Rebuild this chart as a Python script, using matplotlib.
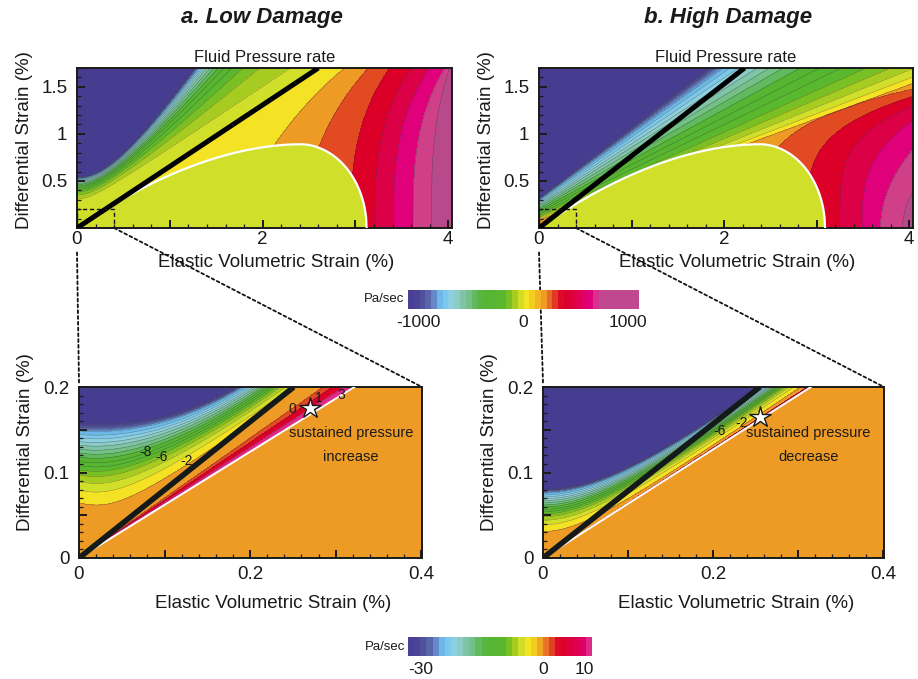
import numpy as np
import matplotlib
matplotlib.use("Agg")
import matplotlib.pyplot as plt
from matplotlib.colors import ListedColormap, BoundaryNorm
from matplotlib.cm import ScalarMappable
from matplotlib.patches import ConnectionPatch, Rectangle
from matplotlib.ticker import FixedLocator, FixedFormatter, MultipleLocator

plt.rcParams["font.family"] = ["Liberation Sans", "DejaVu Sans"]

FIG_W, FIG_H = 918, 679

# colours of the filled bands, index 0 = saturated negative rate
TOP_BANDS = ["#473d90", "#4b4597", "#50509c", "#5964aa", "#6688c8", "#6cb8e8",
             "#7cc8ec", "#8ccfe0", "#8ccbc8", "#80c4a8", "#74c088", "#62ba60",
             "#56b634", "#56b632", "#5ab82e", "#78c024", "#a6cc22", "#cfdf2a",
             "#f4e224", "#ee9b26", "#e24a22", "#dc0028", "#dc0046", "#e0007a",
             "#cf4088", "#b84a8c"]
BOT_BANDS = TOP_BANDS[:22] + ["#e02a88"]

# colour bars
TOP_CBAR_COLORS = [
    "#4a3f94", "#4b4597", "#50509c", "#5964aa", "#6688c8", "#6cb8e8", "#7cc8ec", "#8ccfe0",
    "#8ccbc8", "#80c4a8", "#74c088", "#62ba60", "#58b640", "#56b634", "#56b632", "#58b630",
    "#5ab82e", "#78c024", "#a6cc22", "#d0de28", "#f2e622", "#f4cc22", "#f2b422", "#ee9c26",
    "#e86a28", "#e03a24", "#dc0a28", "#dc002c", "#de003e", "#e00052", "#e0006a", "#e0007e",
    "#d8308c", "#c0488e", "#c0488e", "#c0488e", "#c0488e", "#c0488e", "#c0488e", "#c0488e"]
TOP_CBAR_RANGE = [-1095, 1110]
TOP_CBAR_TICKS = [-1000, 0, 1000]
BOT_CBAR_COLORS = [
    "#4a3f94", "#4b4597", "#50509c", "#5964aa", "#6688c8", "#6cb8e8", "#7cc8ec", "#8ccfe0",
    "#8ccbc8", "#80c4a8", "#74c088", "#62ba60", "#58b640", "#56b634", "#56b632", "#58b630",
    "#78c024", "#a6cc22", "#d0de28", "#f2e622", "#f4cc22", "#f0a824", "#ea7426", "#e04024",
    "#dc0a28", "#dc002c", "#de003e", "#e00052", "#e00068", "#e02a88"]
BOT_CBAR_RANGE = [-33, 12]
BOT_CBAR_TICKS = [-30, 0, 10]

# black (damage onset) line end points, lines start at the origin
TL_BLACK = [2.6, 1.7]
TR_BLACK = [2.22, 1.7]
BL_BLACK = [0.251, 0.2]
BR_BLACK = [0.255, 0.2]

# white boundary of the elastic zone: peak x, peak y, foot x (top panels)
TL_WHITE = [2.4, 0.89, 3.12]
TR_WHITE = [2.38, 0.89, 3.09]
# white line end points in the zoom panels
BL_WHITE = [0.322, 0.2]
BR_WHITE = [0.315, 0.2]

# low damage, upper fan: lower edge and purple edge (y0, slope, bend, x0)
TL_FAN_LOW = [0.31, 0.66, 0.2, 0.0]
TL_FAN_HIGH = [0.52, 1.4, 0.6, 0.0]
TL_FAN_T = [0.0, 0.2, 0.35, 0.47, 0.57, 0.65, 0.72, 0.78, 0.84, 0.89, 0.93, 0.97, 1.0]
# low damage, right side contours x = p + q*y + s*y^3
TL_RIGHT_P = [1.62, 2.358, 2.944, 3.21, 3.41, 3.62, 3.82]
TL_RIGHT_Q = [0.51, 0.229, 0.02, 0.0, 0.0, 0.0, 0.0]
TL_RIGHT_S = [0.08, 0.08, 0.08, 0.08, 0.08, 0.07, 0.04]

# high damage fan: straight edges (intercept, slope)
TR_FAN_LOW = [0.08, 0.36]
TR_FAN_HIGH = [0.31, 0.743]
TR_FAN_T = [0.0, 0.04, 0.09, 0.15, 0.22, 0.30, 0.38, 0.46, 0.54, 0.61, 0.68,
            0.74, 0.80, 0.86, 0.91, 0.95, 0.98, 1.0]
# high damage, right side contours x = p + a*y^n
TR_RIGHT_P = [2.40, 2.90, 3.25, 3.49, 3.69, 3.93]
TR_RIGHT_A = [0.343, 0.30, 0.28, 0.37, 0.50, 0.75]
TR_RIGHT_N = [4, 4, 4, 3, 2, 2]

# zoom panels
ZOOM_FAN_T = [0.0, 0.176, 0.294, 0.388, 0.459, 0.518, 0.575, 0.635, 0.69, 0.745,
              0.80, 0.85, 0.90, 0.95, 1.0]
BL_FAN_LOW = [0.062, 0.7, 0.05, 0.02]
BL_FAN_HIGH = [0.148, 1.75, 0.02]          # parabola y0, c, x0
BL_WEDGE_SLOPE = [0.621, 0.645, 0.675, 0.70, 0.797]
BL_WEDGE_I = [22.9, 22, 21, 20, 19.3]
BR_FAN_LOW = [0.031, 0.68, 0.06, 0.0]
BR_FAN_HIGH = [0.076, 0.75, 0.12, 0.0]
BR_RED_SLOPE = 0.643

BL_LABELS = [("-8", 0.078, 0.124), ("-6", 0.096, 0.118), ("-2", 0.126, 0.113),
             ("0", 0.249, 0.174), ("1", 0.280, 0.187), ("3", 0.307, 0.191)]
BR_LABELS = [("-6", 0.208, 0.149), ("-2", 0.233, 0.158)]
BL_STAR = [0.270, 0.175]
BR_STAR = [0.255, 0.165]


def hyper(x, y0, m, d, x0=0.0):
    return y0 + m * (np.sqrt((x - x0) ** 2 + d ** 2) - d)


def fan_index(t, edges, first, dark_step, background, bg_width=0.3):
    n = len(edges)
    last = first - (n - 1)
    xp = [edges[0] - bg_width] + list(edges)
    fp = [background] + [first - i for i in range(n)]
    for j in range(1, last):
        xp.append(edges[-1] + dark_step * j)
        fp.append(last - j)
    xp.append(xp[-1] + 0.06)
    fp.append(0.01)
    return np.interp(t, xp, fp)


def between_bounds(x, bounds, first, lo, hi):
    out = np.full(x.shape, float(lo))
    for i in range(len(bounds) - 1):
        a, b = bounds[i], bounds[i + 1]
        m = (x >= a) & (x < b)
        out[m] = (first + i + (x - a) / (b - a))[m]
    out[x >= bounds[-1]] = hi
    return out


def white_top(x, white):
    px, py, foot = white
    left = py * (1 - (np.clip(px - x, 0, None) / px) ** 1.85)
    right = py * np.sqrt(np.clip(1 - ((x - px) / (foot - px)) ** 2, 0, None))
    return np.where(x <= px, left, right)


def top_left_field(X, Y):
    k = TL_BLACK[1] / TL_BLACK[0]
    lo, hi = hyper(X, *TL_FAN_LOW), hyper(X, *TL_FAN_HIGH)
    upper = fan_index((Y - lo) / (hi - lo), TL_FAN_T, 17, 0.025, 17.5)
    bounds = [p + q * Y + s * Y ** 3 for p, q, s in zip(TL_RIGHT_P, TL_RIGHT_Q, TL_RIGHT_S)]
    lower = between_bounds(X, bounds, 19, 18.5, 25.5)
    idx = np.where(Y >= k * X, upper, lower)
    elastic = (Y < white_top(X, TL_WHITE)) & (Y < k * X)
    return np.where(elastic, 17.5, idx)


def top_right_field(X, Y):
    k = TR_BLACK[1] / TR_BLACK[0]
    lo = TR_FAN_LOW[0] + TR_FAN_LOW[1] * X
    hi = TR_FAN_HIGH[0] + TR_FAN_HIGH[1] * X
    fan = fan_index((Y - lo) / (hi - lo), TR_FAN_T, 19, 0.025, 30.0, bg_width=0.005)
    bounds = []
    for p, a, n in zip(TR_RIGHT_P, TR_RIGHT_A, TR_RIGHT_N):
        b = p + a * Y ** n
        if bounds:
            b = np.maximum(b, bounds[-1] + 1e-6)
        bounds.append(b)
    right = between_bounds(X, bounds, 20, 19.5, 25.5)
    idx = np.minimum(fan, right)
    elastic = (Y < white_top(X, TR_WHITE)) & (Y < k * X)
    return np.where(elastic, 17.5, idx)


def bottom_left_field(X, Y):
    k = BL_BLACK[1] / BL_BLACK[0]
    kw = BL_WHITE[1] / BL_WHITE[0]
    lo = hyper(X, *BL_FAN_LOW)
    hi = BL_FAN_HIGH[0] + BL_FAN_HIGH[1] * (X - BL_FAN_HIGH[2]) ** 2
    upper = fan_index((Y - lo) / (hi - lo), ZOOM_FAN_T, 19, 0.025, 19.5)
    slope = Y / np.maximum(X, 1e-9)
    wedge = np.interp(slope, BL_WEDGE_SLOPE, BL_WEDGE_I)
    idx = np.where(Y >= k * X, upper, wedge)
    return np.where(Y < kw * X, 19.5, idx)


def bottom_right_field(X, Y):
    kw = BR_WHITE[1] / BR_WHITE[0]
    lo, hi = hyper(X, *BR_FAN_LOW), hyper(X, *BR_FAN_HIGH)
    idx = fan_index((Y - lo) / (hi - lo), ZOOM_FAN_T, 19, 0.025, 19.5)
    slope = Y / np.maximum(X, 1e-9)
    idx = np.where((slope < BR_RED_SLOPE) & (idx > 19), 21.5, idx)
    return np.where(Y < kw * X, 19.5, idx)


def fig_rect(left, top, right, bottom):
    return [left / FIG_W, 1 - bottom / FIG_H, (right - left) / FIG_W, (bottom - top) / FIG_H]


def style_axes(ax, top):
    if top:
        ax.set_xlim(0, 4.04)
        ax.set_ylim(0, 1.7)
        ax.xaxis.set_major_locator(FixedLocator([0, 1, 2, 3, 4]))
        ax.xaxis.set_major_formatter(FixedFormatter(["0", "", "2", "", "4"]))
        ax.xaxis.set_minor_locator(MultipleLocator(0.2))
        ax.yaxis.set_major_locator(FixedLocator([0, 0.5, 1, 1.5]))
        ax.yaxis.set_major_formatter(FixedFormatter(["", "0.5", "1", "1.5"]))
        ax.yaxis.set_minor_locator(MultipleLocator(0.1))
        ax.tick_params(axis="x", which="major", pad=2)
    else:
        ax.set_xlim(0, 0.401)
        ax.set_ylim(0, 0.2)
        ax.xaxis.set_major_locator(FixedLocator([0, 0.1, 0.2, 0.3, 0.4]))
        ax.xaxis.set_major_formatter(FixedFormatter(["0", "", "0.2", "", "0.4"]))
        ax.xaxis.set_minor_locator(MultipleLocator(0.02))
        ax.yaxis.set_major_locator(FixedLocator([0, 0.05, 0.1, 0.15, 0.2]))
        ax.yaxis.set_major_formatter(FixedFormatter(["0", "", "0.1", "", "0.2"]))
        ax.yaxis.set_minor_locator(MultipleLocator(0.01))
        ax.tick_params(axis="x", which="major", pad=6)
    ax.tick_params(which="both", direction="in", top=False, right=False,
                   labelsize=13.5, colors="#1a1a1a")
    ax.tick_params(which="major", length=6, width=1.4)
    ax.tick_params(which="minor", length=3, width=0.9)
    ax.tick_params(axis="y", which="major", pad=7)
    for sp in ax.spines.values():
        sp.set_linewidth(1.4)
        sp.set_color("#1a1a1a")
    ax.set_xlabel("Elastic Volumetric Strain (%)", fontsize=13.5, color="#1a1a1a")
    ax.set_ylabel("Differential Strain (%)", fontsize=13.5, color="#1a1a1a")


def draw_field(ax, X, Y, idx, bands):
    n = len(bands)
    idx = np.clip(idx, 0.01, n - 0.01)
    levels = np.arange(n + 1)
    ax.contourf(X, Y, idx, levels=levels, colors=bands, zorder=1)
    ax.contour(X, Y, idx, levels=levels[1:-1], colors="#333333",
               linewidths=0.35, alpha=0.55, zorder=2)


def top_panel(ax, field, black, white):
    x = np.linspace(0, 4.04, 900)
    y = np.linspace(0, 1.7, 420)
    X, Y = np.meshgrid(x, y)
    draw_field(ax, X, Y, field(X, Y), TOP_BANDS)
    k = black[1] / black[0]
    xs = np.linspace(0, white[2], 600)
    ys = np.minimum(white_top(xs, white), k * xs)
    ax.plot(xs, ys, color="white", lw=1.6, zorder=3)
    ax.plot([0, black[0]], [0, black[1]], color="black", lw=3.6,
            solid_capstyle="butt", zorder=4)
    ax.add_patch(Rectangle((0, 0), 0.4, 0.2, fill=False, ec="#111111", lw=1.0,
                           ls=(0, (3, 2)), zorder=5))
    ax.set_title("Fluid Pressure rate", fontsize=12, pad=4, color="#1a1a1a")
    style_axes(ax, True)


def bottom_panel(ax, field, black, white, labels, star, note):
    x = np.linspace(0, 0.401, 800)
    y = np.linspace(0, 0.2, 420)
    X, Y = np.meshgrid(x, y)
    draw_field(ax, X, Y, field(X, Y), BOT_BANDS)
    ax.plot([0, white[0]], [0, white[1]], color="white", lw=1.4, zorder=3)
    ax.plot([0, black[0]], [0, black[1]], color="#141a1a", lw=4.0,
            solid_capstyle="butt", zorder=4)
    for text, lx, ly in labels:
        ax.text(lx, ly, text, fontsize=10, ha="center", va="center",
                color="#1a1a1a", zorder=6)
    ax.plot(star[0], star[1], marker="*", ms=16, mfc="white", mec="#1a1a1a",
            mew=1.0, zorder=7, clip_on=False)
    ax.text(note[1], note[2], note[0], fontsize=10.5, ha="center", va="center",
            linespacing=1.9, color="#1a1a1a", zorder=6)
    style_axes(ax, False)


def add_colorbar(fig, rect, colors, vrange, ticks):
    cax = fig.add_axes(rect)
    bounds = np.linspace(vrange[0], vrange[1], len(colors) + 1)
    sm = ScalarMappable(norm=BoundaryNorm(bounds, len(colors)), cmap=ListedColormap(colors))
    cb = fig.colorbar(sm, cax=cax, orientation="horizontal", ticks=ticks)
    cb.minorticks_off()
    cb.outline.set_visible(False)
    cb.ax.set_xticklabels([str(t) for t in ticks])
    cb.ax.tick_params(which="both", length=0, labelsize=12.5, pad=4, colors="#1a1a1a")
    cax.text(-0.015, 0.5, "Pa/sec", transform=cax.transAxes, ha="right",
             va="center", fontsize=9.5, color="#1a1a1a")


def connect(fig, ax_a, xy_a, ax_b, xy_b):
    con = ConnectionPatch(xyA=xy_a, coordsA=ax_a.transData, xyB=xy_b,
                          coordsB=ax_b.transData, color="#111111", lw=1.3,
                          ls=(0, (1.6, 1.6)), zorder=0)
    fig.add_artist(con)


def main():
    fig = plt.figure(figsize=(FIG_W / 100, FIG_H / 100), dpi=100)
    ax_tl = fig.add_axes(fig_rect(77, 68, 452, 228))
    ax_tr = fig.add_axes(fig_rect(539, 68, 913, 228))
    ax_bl = fig.add_axes(fig_rect(79, 387, 422, 558))
    ax_br = fig.add_axes(fig_rect(543, 387, 884, 558))

    top_panel(ax_tl, top_left_field, TL_BLACK, TL_WHITE)
    top_panel(ax_tr, top_right_field, TR_BLACK, TR_WHITE)
    bottom_panel(ax_bl, bottom_left_field, BL_BLACK, BL_WHITE, BL_LABELS, BL_STAR,
                 ("sustained pressure\nincrease", 0.318, 0.1325))
    bottom_panel(ax_br, bottom_right_field, BR_BLACK, BR_WHITE, BR_LABELS, BR_STAR,
                 ("sustained pressure\ndecrease", 0.312, 0.1325))

    for ax in (ax_tl, ax_tr):
        ax.xaxis.set_label_coords(0.53, -0.165)
        ax.yaxis.set_label_coords(-0.117, 0.55)
    for ax in (ax_bl, ax_br):
        ax.xaxis.set_label_coords(0.567, -0.215)
        ax.yaxis.set_label_coords(-0.132, 0.68)

    fig.text(262 / FIG_W, 1 - 17 / FIG_H, "a. Low Damage", ha="center", va="center",
             fontsize=16, fontweight="bold", fontstyle="italic", color="#1a1a1a")
    fig.text(728 / FIG_W, 1 - 17 / FIG_H, "b. High Damage", ha="center", va="center",
             fontsize=16, fontweight="bold", fontstyle="italic", color="#1a1a1a")

    add_colorbar(fig, fig_rect(408, 290, 639, 309), TOP_CBAR_COLORS, TOP_CBAR_RANGE,
                 TOP_CBAR_TICKS)
    add_colorbar(fig, fig_rect(408, 637, 592, 656), BOT_CBAR_COLORS, BOT_CBAR_RANGE,
                 BOT_CBAR_TICKS)

    connect(fig, ax_tl, (0, -0.26), ax_bl, (0, 0.205))
    connect(fig, ax_tl, (0.4, 0), ax_bl, (0.401, 0.2))
    connect(fig, ax_tr, (0, -0.26), ax_br, (0, 0.205))
    connect(fig, ax_tr, (0.4, 0), ax_br, (0.401, 0.2))

    fig.savefig("out.png", dpi=100)
    plt.close(fig)


if __name__ == "__main__":
    main()
